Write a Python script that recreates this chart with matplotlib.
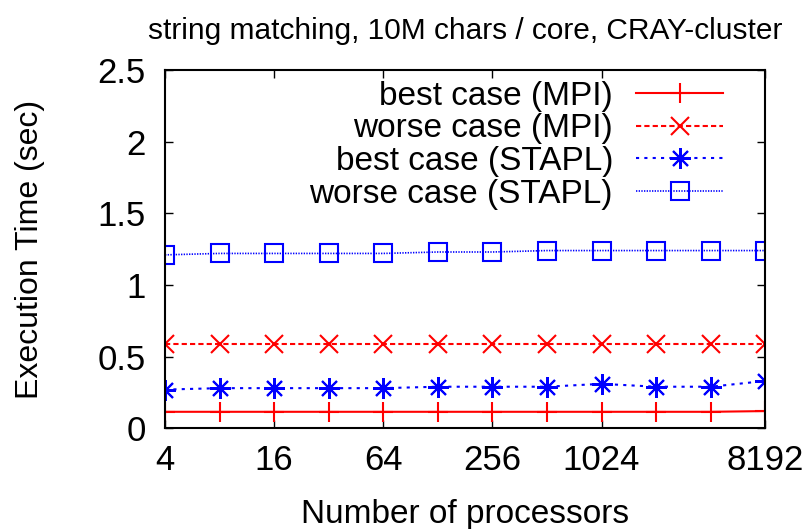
import matplotlib.pyplot as plt
import numpy as np

plt.rcParams['font.family'] = ['Liberation Sans', 'DejaVu Sans']

# processor counts and timings (sec)
procs = [4, 8, 16, 32, 64, 128, 256, 512, 1024, 2048, 4096, 8192]
best_mpi = [0.115, 0.115, 0.115, 0.115, 0.115, 0.115, 0.115, 0.115, 0.115, 0.115, 0.115, 0.12]
worse_mpi = [0.59, 0.59, 0.59, 0.59, 0.59, 0.59, 0.59, 0.59, 0.59, 0.59, 0.59, 0.59]
best_stapl = [0.27, 0.28, 0.28, 0.28, 0.28, 0.29, 0.29, 0.29, 0.31, 0.29, 0.29, 0.33]
worse_stapl = [1.21, 1.22, 1.22, 1.22, 1.22, 1.23, 1.23, 1.24, 1.24, 1.24, 1.24, 1.24]

xticks = [4, 16, 64, 256, 1024, 8192]
yticks = [0, 0.5, 1, 1.5, 2, 2.5]

fig = plt.figure(figsize=(8.11, 5.29), dpi=100)
ax = fig.add_axes([0.2035, 0.1904, 0.74, 0.6773])

ax.plot(procs, best_mpi, color='#ff0000', lw=1.5, ls='-',
        marker='+', ms=14, mew=1.5, label='best case (MPI)')
ax.plot(procs, worse_mpi, color='#ff0000', lw=1.5, ls=(0, (2.5, 1.5)),
        marker='x', ms=13.5, mew=1.5, label='worse case (MPI)')
ax.plot(procs, best_stapl, color='#0000ff', lw=1.5, ls=(0, (1.5, 2.5)),
        marker=(8, 2, 0), ms=15, mew=1.5, label='best case (STAPL)')
ax.plot(procs, worse_stapl, color='#0000ff', lw=1.2, ls=(0, (0.8, 0.8)),
        marker='s', ms=13.5, mew=1.5, mfc='none', label='worse case (STAPL)')

ax.set_xscale('log', base=2)
ax.set_xlim(4, 8192)
ax.set_ylim(0, 2.5)
ax.set_xticks(xticks)
ax.set_xticklabels([str(v) for v in xticks])
ax.minorticks_off()
ax.set_yticks(yticks)
ax.set_yticklabels(['0', '0.5', '1', '1.5', '2', '2.5'])

ax.tick_params(direction='in', length=6, width=1, top=True, right=True,
               labelsize=25)
ax.tick_params(axis='x', pad=11)
ax.tick_params(axis='y', pad=14)
for s in ax.spines.values():
    s.set_linewidth(1.5)

ax.set_xlabel('Number of processors', fontsize=24)
ax.xaxis.set_label_coords(0.5, -0.198)
ax.set_ylabel('Execution Time (sec)', fontsize=23)
ax.yaxis.set_label_coords(-0.2, 0.5)
ax.set_title('string matching, 10M chars / core, CRAY-cluster', fontsize=21.5, pad=22)

leg = ax.legend(loc='upper right', frameon=False, fontsize=24, markerfirst=False,
                handlelength=2.6, labelspacing=0.05, handletextpad=0.7,
                borderaxespad=0, bbox_to_anchor=(0.952, 1.007))
for col in leg._legend_handle_box.get_children():
    col.align = 'right'

fig.savefig('out.png', dpi=100)
